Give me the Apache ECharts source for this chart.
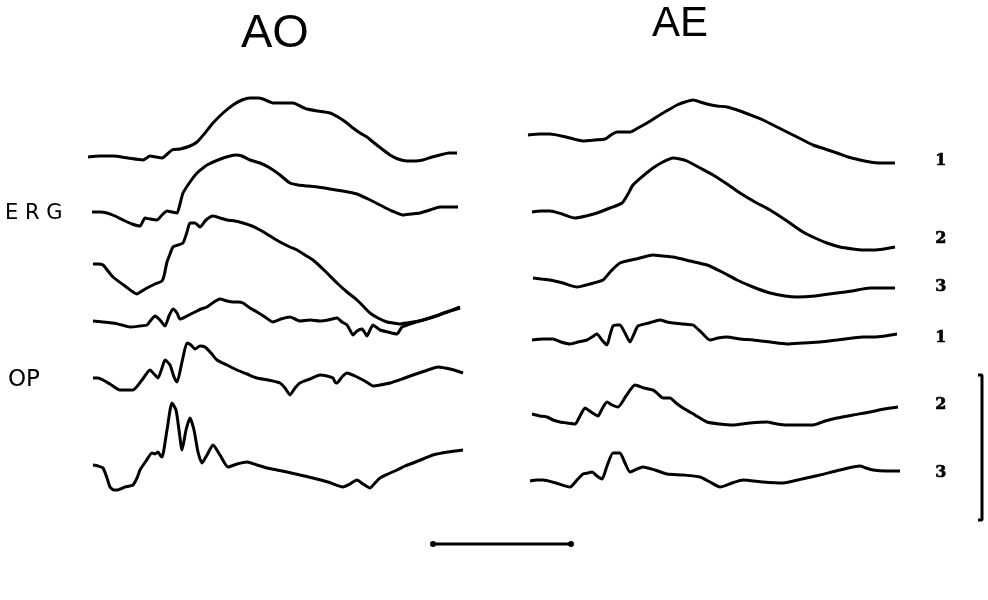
<!DOCTYPE html>
<html><head><meta charset="utf-8">
<script src="https://cdn.jsdelivr.net/npm/echarts@6/dist/echarts.min.js"></script>
<style>html,body{margin:0;padding:0;background:#fff}#c{width:988px;height:600px}</style>
</head><body><div id="c"></div>
<script>
// Traces: [x, y] in figure units (y grows downward)
const aoErg1 = [[88,157],[100,156],[113,156],[128,158],[143,160],[150,156],[156,157],[162,158],[172,150],[180,149],[190,146],[197,142],[205,133],[213,123],[223,113],[233,105],[242,100],[250,98],[258,98],[263,99],[273,103],[283,103],[293,103],[300,106],[307,109],[318,111],[330,113],[338,117],[347,123],[353,128],[360,133],[367,137],[373,142],[382,149],[390,155],[398,159],[407,161],[415,161],[423,160],[432,157],[440,155],[449,153],[457,153]];
const aoErg2 = [[92,212],[100,212],[107,213],[115,216],[123,220],[132,224],[140,226],[145,218],[150,219],[157,220],[162,215],[167,211],[172,212],[177,213],[180,204],[183,193],[190,182],[197,173],[203,168],[207,165],[218,160],[230,156],[236,155],[242,156],[250,160],[260,163],[270,168],[280,175],[290,183],[298,185],[307,186],[318,187],[330,189],[343,191],[357,194],[368,199],[380,205],[392,211],[403,215],[411,214],[420,213],[430,210],[440,207],[450,207],[458,207]];
const aoErg3 = [[93,264],[98,264],[103,265],[108,271],[113,277],[125,286],[137,294],[142,291],[147,288],[155,284],[162,281],[164,276],[167,262],[170,254],[173,247],[178,245],[183,243],[187,232],[190,223],[195,223],[200,227],[206,220],[213,216],[220,218],[227,220],[235,221],[243,223],[252,226],[260,230],[270,236],[280,242],[290,247],[297,250],[305,255],[313,260],[325,271],[337,283],[347,292],[357,300],[364,307],[370,313],[378,318],[387,322],[393,323],[400,324],[406,323],[413,322],[423,320],[433,317],[447,312],[460,307]];
const opAo1 = [[93,321],[103,322],[113,323],[122,325],[130,327],[140,326],[147,325],[151,320],[155,316],[160,320],[165,326],[169,316],[173,309],[177,313],[180,319],[187,316],[195,312],[201,309],[207,307],[214,302],[220,299],[227,301],[233,302],[238,302],[243,303],[250,308],[257,312],[265,317],[273,322],[281,319],[290,317],[295,319],[300,321],[310,320],[320,321],[328,320],[337,318],[342,322],[347,325],[351,332],[353,335],[357,331],[362,329],[365,333],[367,336],[370,330],[373,325],[376,327],[380,330],[388,332],[397,334],[400,330],[402,327],[407,325],[413,323],[423,320],[433,317],[447,312],[460,308]];
const opAo2 = [[93,378],[98,378],[103,380],[110,384],[120,390],[126,390],[133,390],[142,380],[150,370],[154,374],[158,378],[162,368],[165,360],[170,365],[174,377],[177,382],[182,362],[187,343],[191,345],[195,349],[200,346],[205,347],[211,353],[217,360],[227,365],[237,370],[247,374],[257,378],[268,380],[280,383],[285,388],[290,395],[295,388],[300,383],[310,379],[320,375],[327,376],[333,378],[335,382],[337,383],[342,377],[347,373],[355,376],[363,380],[368,383],[373,386],[380,385],[390,383],[402,379],[413,375],[425,371],[438,367],[445,368],[450,369],[457,371],[463,373]];
const opAo3 = [[93,465],[98,466],[103,468],[107,478],[110,487],[114,490],[117,490],[125,487],[133,485],[137,478],[140,470],[146,461],[152,453],[155,454],[158,452],[160,455],[162,457],[167,430],[172,403],[176,410],[179,430],[182,450],[186,430],[190,418],[194,430],[198,452],[202,463],[207,455],[213,445],[220,455],[228,467],[237,464],[247,462],[257,465],[267,468],[277,470],[287,472],[300,475],[313,478],[328,482],[343,487],[350,484],[357,480],[363,484],[370,488],[375,483],[380,478],[388,474],[397,470],[405,466],[413,463],[423,459],[433,455],[448,452],[463,450]];
const aeErg1 = [[528,135],[540,134],[550,134],[566,137],[583,141],[595,140],[605,139],[611,135],[617,132],[624,132],[630,132],[638,128],[647,123],[655,118],[663,113],[670,109],[677,105],[685,102],[693,100],[700,102],[707,104],[717,106],[727,107],[740,111],[753,116],[763,120],[773,125],[783,130],[793,135],[803,140],[813,145],[825,149],[837,153],[848,157],[860,160],[870,162],[880,163],[888,163],[895,163]];
const aeErg2 = [[532,212],[541,211],[550,211],[562,214],[575,218],[586,216],[597,213],[610,208],[622,203],[628,194],[633,185],[643,176],[653,168],[663,162],[673,158],[680,159],[687,161],[700,168],[713,175],[727,184],[740,193],[755,202],[770,210],[787,221],[803,232],[815,238],[827,243],[840,247],[853,249],[863,250],[873,250],[884,249],[895,247]];
const aeErg3 = [[533,278],[541,279],[550,280],[563,283],[577,287],[590,284],[603,280],[611,271],[620,263],[636,259],[653,255],[663,256],[673,257],[690,261],[707,265],[722,272],[737,280],[753,287],[770,293],[785,296],[797,297],[815,296],[837,293],[852,291],[870,288],[882,288],[895,288]];
const opAe1 = [[532,340],[543,339],[553,339],[561,342],[570,344],[578,342],[587,340],[592,337],[597,334],[602,340],[607,345],[610,335],[613,326],[617,325],[620,325],[625,333],[630,342],[634,334],[638,326],[649,323],[660,320],[667,322],[673,323],[683,324],[693,325],[701,332],[710,340],[718,338],[727,337],[740,339],[753,340],[770,342],[787,344],[803,343],[820,342],[837,340],[853,338],[863,337],[873,337],[885,336],[897,334]];
const opAe2 = [[532,414],[540,416],[547,417],[553,420],[560,422],[567,423],[575,424],[580,416],[585,408],[591,412],[598,416],[602,409],[607,402],[612,405],[618,407],[626,396],[635,385],[644,388],[653,390],[658,394],[663,398],[670,398],[676,403],[683,408],[695,415],[707,422],[720,424],[733,425],[750,423],[767,422],[777,424],[787,425],[800,425],[813,425],[825,421],[837,418],[853,415],[870,412],[884,409],[898,407]];
const opAe3 = [[530,481],[537,480],[543,480],[556,483],[570,487],[577,480],[583,474],[588,473],[592,472],[597,476],[602,479],[607,466],[613,453],[617,453],[620,453],[625,463],[630,472],[637,469],[643,467],[655,470],[667,474],[683,475],[700,477],[710,482],[720,487],[732,483],[743,480],[763,482],[783,483],[802,479],[820,475],[840,470],[860,466],[866,468],[873,470],[886,471],[900,471]];
// Calibration bars
const vBar = [[978,375],[982,375],[982,520],[978,520]];
const hBar = [[433,544],[571,544]];

const traces = [aoErg1, aoErg2, aoErg3, opAo1, opAo2, opAo3, aeErg1, aeErg2, aeErg3, opAe1, opAe2, opAe3];
const traceNames = ['AO ERG 1','AO ERG 2','AO ERG 3','AO OP 1','AO OP 2','AO OP 3','AE ERG 1','AE ERG 2','AE ERG 3','AE OP 1','AE OP 2','AE OP 3'];
const rowLabels = ['1','2','3','1','2','3'];
const rowLabelY = [153,231,279,330,397,465];

const chart = echarts.init(document.getElementById('c'));
const series = traces.map((d,i)=>({
  name: traceNames[i], type:'line', data:d, showSymbol:false, smooth:0.2,
  lineStyle:{color:'#000', width:3}, silent:true, animation:false
}));
series.push({name:'v', type:'line', data:vBar, showSymbol:false, lineStyle:{color:'#000',width:3}, animation:false});
series.push({name:'h', type:'line', data:hBar, showSymbol:true, symbol:'circle', symbolSize:6,
  itemStyle:{color:'#000'}, lineStyle:{color:'#000',width:3}, animation:false});

const labelGraphics = rowLabels.map((t,i)=>({
  type:'text', left:935, top:rowLabelY[i],
  style:{text:t, font:'bold 16px "DejaVu Serif"', fill:'#000', stroke:'#000', lineWidth:0.6}
}));

chart.setOption({
  backgroundColor:'#fff',
  animation:false,
  grid:{left:0, right:0, top:0, bottom:0},
  xAxis:{type:'value', min:0, max:988, show:false},
  yAxis:{type:'value', min:0, max:600, inverse:true, show:false},
  graphic:[
    {type:'text', left:241, top:11, style:{text:'AO', font:'47px "Liberation Sans"', fill:'#000'}},
    {type:'text', left:652, top:3, style:{text:'AE', font:'42px "Liberation Sans"', fill:'#000'}},
    {type:'text', left:5, top:203, style:{text:'E R G', font:'21px "DejaVu Sans"', fill:'#000'}},
    {type:'text', left:8, top:369, style:{text:'OP', font:'23px "DejaVu Sans"', fill:'#000'}}
  ].concat(labelGraphics),
  series: series
});
</script></body></html>
